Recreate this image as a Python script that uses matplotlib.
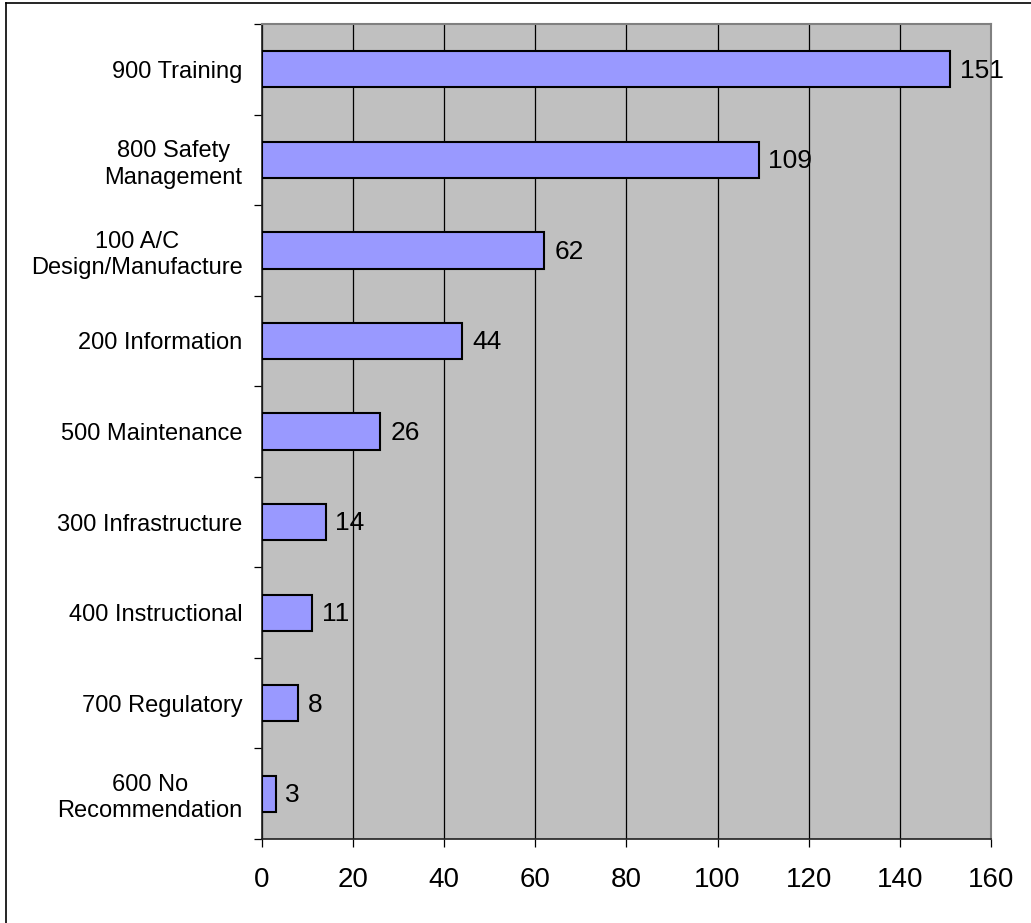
import matplotlib
matplotlib.use("Agg")
import matplotlib.pyplot as plt
from matplotlib.lines import Line2D
import numpy as np

plt.rcParams["font.family"] = ["Liberation Sans", "DejaVu Sans"]

# recommendation categories, top to bottom
categories = [
    "900 Training",
    "800 Safety\nManagement",
    "100 A/C\nDesign/Manufacture",
    "200 Information",
    "500 Maintenance",
    "300 Infrastructure",
    "400 Instructional",
    "700 Regulatory",
    "600 No\nRecommendation",
]
counts = [151, 109, 62, 44, 26, 14, 11, 8, 3]
x_ticks = [0, 20, 40, 60, 80, 100, 120, 140, 160]

fig = plt.figure(figsize=(10.31, 9.23), dpi=100)
ax = fig.add_axes([0.2541, 0.091, 0.7071, 0.883])

ypos = np.arange(len(categories))
ax.set_facecolor("#C0C0C0")
ax.barh(ypos, counts, height=0.4, color="#9999FF", edgecolor="black",
        linewidth=1.5, zorder=3)

for y, v in zip(ypos, counts):
    ax.annotate(str(v), xy=(v, y), xytext=(7, -1), textcoords="offset points",
                va="center", ha="left", fontsize=19, zorder=4)

ax.set_xlim(0, 160)
ax.set_ylim(len(categories) - 0.5, -0.5)
ax.set_xticks(x_ticks)
ax.set_xticklabels([str(t) for t in x_ticks], fontsize=20)
ax.xaxis.grid(True, color="black", linewidth=0.9, zorder=1)
ax.set_axisbelow(True)

# category labels at centres, tick marks at boundaries
ax.set_yticks(ypos)
ax.set_yticklabels(categories, fontsize=17, multialignment="center", linespacing=1.25)
ax.set_yticks(np.arange(-0.5, len(categories)), minor=True)
ax.tick_params(axis="y", which="major", length=0, pad=14)
ax.tick_params(axis="y", which="minor", length=6, width=0.9, direction="out")
ax.tick_params(axis="x", which="major", length=6, width=0.9, direction="out", pad=14)

for side in ("left", "bottom"):
    ax.spines[side].set_color("#202020")
    ax.spines[side].set_linewidth(1.2)
for side in ("top", "right"):
    ax.spines[side].set_color("#808080")
    ax.spines[side].set_linewidth(1.5)

# chart frame
fig.add_artist(Line2D([6 / 1031, 6 / 1031], [0, 1 - 3 / 923], transform=fig.transFigure,
                      color="black", linewidth=1.2))
fig.add_artist(Line2D([6 / 1031, 1], [1 - 3 / 923, 1 - 3 / 923], transform=fig.transFigure,
                      color="black", linewidth=1.2))

fig.savefig("out.png", dpi=100)
